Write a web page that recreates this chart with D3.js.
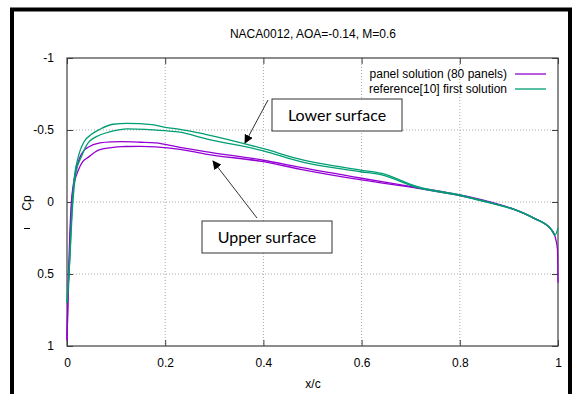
<!DOCTYPE html>
<html><head><meta charset="utf-8">
<script src="https://cdn.jsdelivr.net/npm/d3@7"></script>
<style>body{margin:0;background:#fff}svg{display:block}</style>
</head><body>
<svg id="c" width="572" height="394"></svg>
<script>
const title = "NACA0012, AOA=-0.14, M=0.6";
const xLabel = "x/c";
const yLabel = "Cp";
const xTicks = [0, 0.2, 0.4, 0.6, 0.8, 1];
const yTicks = [-1, -0.5, 0, 0.5, 1];
const seriesNames = ["panel solution (80 panels)", "reference[10] first solution"];
const seriesColors = ["#9400d3", "#009e73"];

// panel solution: surface with more suction
const panelA_x  = [0, 0.003, 0.006, 0.009, 0.012, 0.018, 0.025, 0.035, 0.043, 0.067, 0.09, 0.112, 0.15, 0.18, 0.23, 0.282, 0.4, 0.476, 0.6, 0.714, 0.8, 0.857, 0.91, 0.95, 0.986, 0.993, 0.999, 1.0];
const panelA_cp = [0.96, 0.5, 0.2, 0.0, -0.1, -0.22, -0.3, -0.36, -0.38, -0.41, -0.418, -0.419, -0.415, -0.41, -0.38, -0.35, -0.29, -0.24, -0.165, -0.1, -0.049, -0.005, 0.05, 0.11, 0.19, 0.23, 0.33, 0.56];
// panel solution: other surface
const panelB_x  = [0, 0.002, 0.005, 0.008, 0.011, 0.016, 0.023, 0.032, 0.043, 0.064, 0.09, 0.112, 0.15, 0.18, 0.23, 0.282, 0.4, 0.476, 0.6, 0.714, 0.8, 0.857, 0.91, 0.95, 0.986, 0.993];
const panelB_cp = [0.96, 0.7, 0.4, 0.1, -0.05, -0.15, -0.22, -0.28, -0.31, -0.36, -0.378, -0.385, -0.386, -0.383, -0.366, -0.333, -0.28, -0.227, -0.153, -0.095, -0.045, 0.0, 0.052, 0.112, 0.19, 0.23];
// reference solution: surface with more suction
const refA_x  = [0, 0.004, 0.011, 0.016, 0.022, 0.027, 0.035, 0.05, 0.067, 0.094, 0.122, 0.173, 0.2, 0.23, 0.282, 0.4, 0.476, 0.598, 0.639, 0.714, 0.8, 0.857, 0.91, 0.95, 0.986, 0.994, 1.0];
const refA_cp = [0.7, 0.5, 0.0, -0.2, -0.3, -0.36, -0.42, -0.47, -0.505, -0.54, -0.546, -0.537, -0.518, -0.505, -0.47, -0.37, -0.296, -0.222, -0.2, -0.106, -0.049, 0.0, 0.05, 0.11, 0.19, 0.23, 0.18];
// reference solution: other surface
const refB_x  = [0, 0.004, 0.012, 0.018, 0.03, 0.043, 0.067, 0.09, 0.122, 0.16, 0.2, 0.23, 0.282, 0.4, 0.476, 0.598, 0.639, 0.714, 0.8, 0.857, 0.91, 0.95, 0.986, 0.994];
const refB_cp = [0.7, 0.5, 0.0, -0.2, -0.32, -0.41, -0.465, -0.49, -0.508, -0.505, -0.495, -0.485, -0.44, -0.355, -0.28, -0.21, -0.19, -0.1, -0.045, 0.003, 0.052, 0.112, 0.19, 0.23];

const annotations = [
  {text: "Lower surface", box: [272, 99, 130, 32], from: [268, 100], to: [245, 143]},
  {text: "Upper surface", box: [202, 221, 130, 32], from: [257, 218], to: [213, 161]}
];

const svg = d3.select("#c");
const W = 572, H = 394;
const m = {l: 67, r: 14, t: 58, b: 48};
const x = d3.scaleLinear().domain([0, 1]).range([m.l, W - m.r]);
const y = d3.scaleLinear().domain([-1, 1]).range([m.t, H - m.b]);
const font = "'Liberation Sans', Arial, sans-serif";
const fmt = d => String(d).replace("\u2212", "-");

// outer frame
svg.append("rect").attr("x", 12).attr("y", 9.5).attr("width", 558).attr("height", 420)
  .attr("fill", "none").attr("stroke", "#000").attr("stroke-width", 4);

// grid
const grid = svg.append("g").attr("stroke", "#a8a8a8").attr("stroke-dasharray", "1,2").attr("stroke-width", 1);
xTicks.filter(d => d > 0 && d < 1).forEach(d => {
  grid.append("line").attr("x1", x(d)).attr("x2", x(d)).attr("y1", y(-1)).attr("y2", y(1));
});
yTicks.filter(d => d > -1 && d < 1).forEach(d => {
  grid.append("line").attr("x1", x(0)).attr("x2", x(1)).attr("y1", y(d)).attr("y2", y(d));
});

// axes with gnuplot-like inward mirrored ticks
const axCol = "#404040";
function styleAxis(g) {
  g.selectAll(".domain").remove();
  g.selectAll(".tick line").attr("stroke", axCol);
  g.selectAll("text").attr("font-family", font).attr("font-size", 12).attr("fill", "#000");
}
svg.append("g").attr("transform", `translate(0,${y(1)})`)
  .call(d3.axisBottom(x).tickValues(xTicks).tickFormat(fmt).tickSizeInner(-6).tickPadding(12))
  .call(styleAxis);
svg.append("g").attr("transform", `translate(0,${y(-1)})`)
  .call(d3.axisTop(x).tickValues(xTicks).tickFormat("").tickSizeInner(-6))
  .call(styleAxis);
svg.append("g").attr("transform", `translate(${x(0)},0)`)
  .call(d3.axisLeft(y).tickValues(yTicks).tickFormat(fmt).tickSizeInner(-6).tickPadding(13))
  .call(styleAxis);
svg.append("g").attr("transform", `translate(${x(1)},0)`)
  .call(d3.axisRight(y).tickValues(yTicks).tickFormat("").tickSizeInner(-6))
  .call(styleAxis);
svg.append("rect").attr("x", x(0)).attr("y", y(-1)).attr("width", x(1) - x(0)).attr("height", y(1) - y(-1))
  .attr("fill", "none").attr("stroke", axCol).attr("stroke-width", 1.2);

// curves
const line = d3.line().x(d => x(d[0])).y(d => y(d[1])).curve(d3.curveMonotoneX);
const zip = (a, b) => a.map((v, i) => [v, b[i]]);
const curves = [
  [zip(panelA_x, panelA_cp), 0], [zip(panelB_x, panelB_cp), 0],
  [zip(refA_x, refA_cp), 1], [zip(refB_x, refB_cp), 1]
];
curves.forEach(([pts, s]) => {
  svg.append("path").attr("d", line(pts)).attr("fill", "none")
    .attr("stroke", seriesColors[s]).attr("stroke-width", 1.3).attr("stroke-linejoin", "round");
});

// title & labels
svg.append("text").attr("x", 313).attr("y", 38).attr("text-anchor", "middle")
  .attr("font-family", font).attr("font-size", 12).text(title);
svg.append("text").attr("x", 313).attr("y", 388).attr("text-anchor", "middle")
  .attr("font-family", font).attr("font-size", 12).text(xLabel);
svg.append("text").attr("transform", "translate(31,203) rotate(-90)").attr("text-anchor", "middle")
  .attr("font-family", font).attr("font-size", 12).text(yLabel);
svg.append("line").attr("x1", 24).attr("x2", 30).attr("y1", 228.5).attr("y2", 228.5)
  .attr("stroke", "#000").attr("stroke-width", 1);

// legend
seriesNames.forEach((n, i) => {
  const ly = 74 + i * 15;
  svg.append("text").attr("x", 507).attr("y", ly + 4).attr("text-anchor", "end")
    .attr("font-family", font).attr("font-size", 12).text(n);
  svg.append("line").attr("x1", 515).attr("x2", 546).attr("y1", ly).attr("y2", ly)
    .attr("stroke", seriesColors[i]).attr("stroke-width", 1.3);
});

// annotations
const defs = svg.append("defs");
defs.append("marker").attr("id", "ah").attr("viewBox", "0 0 10 10").attr("refX", 9).attr("refY", 5)
  .attr("markerWidth", 9).attr("markerHeight", 9).attr("orient", "auto").attr("markerUnits", "userSpaceOnUse")
  .append("path").attr("d", "M0,0 L10,5 L0,10 Z").attr("fill", "#000");
annotations.forEach(a => {
  svg.append("line").attr("x1", a.from[0]).attr("y1", a.from[1]).attr("x2", a.to[0]).attr("y2", a.to[1])
    .attr("stroke", "#333").attr("stroke-width", 1).attr("marker-end", "url(#ah)");
  svg.append("rect").attr("x", a.box[0]).attr("y", a.box[1]).attr("width", a.box[2]).attr("height", a.box[3])
    .attr("fill", "#fff").attr("stroke", "#333").attr("stroke-width", 1);
  svg.append("text").attr("x", a.box[0] + a.box[2] / 2).attr("y", a.box[1] + 22).attr("text-anchor", "middle")
    .attr("font-family", "Lato, 'Open Sans', sans-serif").attr("font-size", 16).text(a.text);
});
</script>
</body></html>
